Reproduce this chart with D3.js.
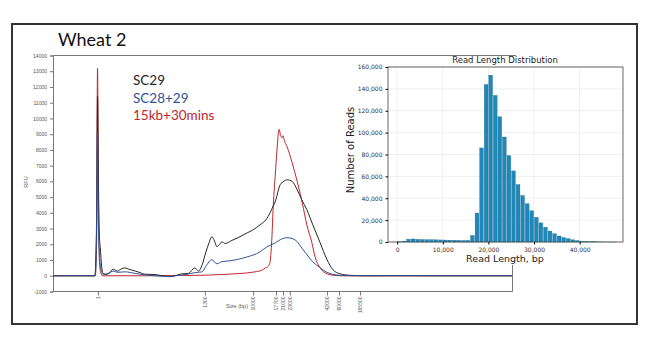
<!DOCTYPE html>
<html><head><meta charset="utf-8">
<script src="https://cdn.jsdelivr.net/npm/d3@7"></script>
<style>body{margin:0;background:#fff}svg{display:block}</style>
</head><body><svg id="c" width="650" height="337"></svg>
<script>
// ---------- data ----------
const chartTitle = "Wheat 2";
const seriesNames = ["SC29", "SC28+29", "15kb+30mins"];
const seriesColors = ["#262626", "#2f5597", "#c0262d"];
const rfuTicks = d3.range(-1000, 14001, 1000);
const ladderSizes = ["1", "1300", "10000", "17700", "21000", "23000", "42000", "60000", "165500"];
const ladderTimes = [9.8, 33.1, 43.6, 48.6, 50.1, 51.6, 59.7, 62.3, 66.9]; // migration time (s)
// [migration time, RFU]
const sc29 = [[0,0],[9.1,0],[9.5,3000],[9.7,11400],[9.9,6000],[10.1,2500],[10.3,1800],[10.6,600],[10.9,150],[11.5,80],[12.5,250],[13.1,420],[14,300],[15,450],[15.7,500],[16.5,420],[17.9,300],[19,200],[20,100],[22,80],[24.4,-20],[25.5,-60],[26.6,0],[28,120],[29.5,150],[30.9,500],[31.7,300],[32.5,700],[33.3,1500],[34,2100],[34.6,2480],[35.2,2200],[35.7,1850],[36.3,2000],[36.8,2160],[37.5,2050],[39,2250],[40.5,2450],[42.3,2730],[43.5,2900],[45.1,3240],[46.5,3600],[47.3,4000],[47.9,4400],[48.4,4700],[49.5,5790],[50.3,6000],[51,6100],[52.1,6000],[53.2,5470],[54.2,4830],[55.3,4200],[56.6,3240],[58.2,2100],[59.7,1020],[61,380],[62.5,130],[64.7,30],[68,0],[75,10],[85,0],[100,0]];
const sc2829 = [[0,0],[9.2,0],[9.5,2000],[9.65,9000],[9.85,4000],[10.1,1500],[10.4,500],[10.9,100],[12,120],[13.1,300],[14,220],[15.7,250],[17.9,150],[20,60],[24.4,-40],[25.5,-50],[26.6,0],[29,80],[30.9,200],[32.5,250],[33.3,600],[34.6,1020],[35.7,760],[36.8,900],[38.5,950],[42.3,1200],[45,1500],[46.6,1840],[48.5,2100],[49.5,2290],[51,2420],[52.7,2290],[54.5,1650],[56.6,890],[58.2,510],[59.9,190],[62.5,30],[65,0],[100,0]];
const kb15 = [[0,0],[9.2,0],[9.5,4000],[9.7,13200],[9.9,5000],[10.1,1000],[10.4,200],[10.9,0],[20,0],[28,20],[32,30],[36.8,80],[40,130],[42.3,180],[44,250],[45.5,350],[46.3,500],[46.9,600],[47.3,900],[47.7,2500],[47.95,4200],[48.4,6300],[48.8,8000],[49.24,9300],[49.6,8900],[49.9,8770],[50.1,8900],[50.4,8600],[51,8200],[52.1,7180],[53.2,6000],[54.3,4640],[55.3,3240],[56.4,2100],[57.1,1200],[58.2,500],[59.7,130],[61.4,20],[63,0],[100,0]];

const histTitle = "Read Length Distribution";
const histBinStarts = d3.range(0, 48000, 1000);
const histCounts = [200,800,2600,2800,2500,2300,2200,2100,2000,1900,1800,1700,1600,1500,1400,1500,6000,26500,86000,144000,152500,134000,114500,96000,79000,65000,52500,42500,35000,28500,22500,17500,13500,10000,7500,5500,4000,3000,2000,1300,800,500,300,200,100,50,30,10];
const histXTicks = [0, 10000, 20000, 30000, 40000];
const histYTicks = d3.range(0, 160001, 20000);

// ---------- drawing ----------
const svg = d3.select("#c");
svg.append("rect").attr("width",650).attr("height",337).attr("fill","#fff");

// outer frame
svg.append("rect").attr("x",12).attr("y",24).attr("width",625).attr("height",300)
  .attr("fill","none").attr("stroke","#333").attr("stroke-width",2);

svg.append("text").attr("x",58).attr("y",46).text(chartTitle)
  .attr("font-family","Lato, 'Open Sans', sans-serif").attr("font-size",18).attr("fill","#111");

// main electropherogram
const x = d3.scaleLinear().domain([0,100]).range([53,512]);
const y = d3.scaleLinear().domain([-1000,14000]).range([291.5,55.5]);

const g = svg.append("g");
// plot box
g.append("line").attr("x1",53).attr("x2",516).attr("y1",55.5).attr("y2",55.5).attr("stroke","#777");
g.append("line").attr("x1",512.5).attr("x2",512.5).attr("y1",55.5).attr("y2",291.5).attr("stroke","#777");

const yAxis = g.append("g").attr("transform","translate(53,0)")
  .call(d3.axisLeft(y).tickValues(rfuTicks).tickSize(3).tickFormat(d=>String(d)));
yAxis.selectAll("text").attr("font-size",5).attr("fill","#555").attr("font-family","'Liberation Sans', sans-serif");
yAxis.selectAll("line,path").attr("stroke","#777");

const xAxis = g.append("g").attr("transform","translate(0,291.5)")
  .call(d3.axisBottom(x).tickValues(ladderTimes).tickSize(4).tickFormat((d,i)=>ladderSizes[i]));
xAxis.select(".domain").attr("d","M53,0H512.5").attr("stroke","#777");
xAxis.selectAll("line").attr("stroke","#777");
xAxis.selectAll("text").attr("font-size",5).attr("fill","#555").attr("font-family","'Liberation Sans', sans-serif")
  .attr("transform","rotate(-90)").attr("text-anchor","end").attr("x",-5).attr("y",0).attr("dy","0.35em");

g.append("text").attr("transform","translate(28,182) rotate(-90)").attr("text-anchor","middle")
  .attr("font-size",5.5).attr("fill","#555").attr("font-family","'Liberation Sans', sans-serif").text("RFU");
g.append("text").attr("x",237).attr("y",308).attr("text-anchor","middle")
  .attr("font-size",5.5).attr("fill","#555").attr("font-family","'Liberation Sans', sans-serif").text("Size (bp)");

const line = d3.line().x(d=>x(d[0])).y(d=>y(d[1])).curve(d3.curveMonotoneX);
const traces = [kb15, sc29, sc2829];
const traceColor = [seriesColors[2], seriesColors[0], seriesColors[1]];
traces.forEach((t,i)=>{
  g.append("path").datum(t).attr("d",line).attr("fill","none")
   .attr("stroke",traceColor[i]).attr("stroke-width",1);
});

// legend
seriesNames.forEach((n,i)=>{
  svg.append("text").attr("x",133).attr("y",85+i*17.5).text(n)
   .attr("font-family","Lato, 'Open Sans', sans-serif").attr("font-size",13.5).attr("fill",seriesColors[i]);
});

// inset histogram
const ig = svg.append("g");
ig.append("rect").attr("x",338).attr("y",57).attr("width",292).attr("height",208).attr("fill","#fff");
const hx = d3.scaleLinear().domain([-2000,49500]).range([388,623]);
const hy = d3.scaleLinear().domain([0,160000]).range([242,67]);
const hf = "'DejaVu Sans', sans-serif";

ig.selectAll(".vg").data(histXTicks).join("line").attr("x1",d=>hx(d)).attr("x2",d=>hx(d))
  .attr("y1",67).attr("y2",242).attr("stroke","#ebebeb").attr("stroke-width",0.8);
ig.selectAll(".hg").data(histYTicks).join("line").attr("y1",d=>hy(d)).attr("y2",d=>hy(d))
  .attr("x1",388).attr("x2",623).attr("stroke","#ebebeb").attr("stroke-width",0.8);

ig.selectAll(".bar").data(histBinStarts).join("rect")
  .attr("x",d=>hx(d)+0.4).attr("width",d=>hx(d+1000)-hx(d)-0.8)
  .attr("y",(d,i)=>hy(histCounts[i])).attr("height",(d,i)=>hy(0)-hy(histCounts[i]))
  .attr("fill","#1f88b8").attr("stroke","#17668c").attr("stroke-width",0.3);

ig.append("rect").attr("x",388).attr("y",67).attr("width",235).attr("height",175)
  .attr("fill","none").attr("stroke","#444").attr("stroke-width",0.8);

const hxAxis = ig.append("g").attr("transform","translate(0,242)")
  .call(d3.axisBottom(hx).tickValues(histXTicks).tickSize(2.5).tickFormat(d3.format(",")));
hxAxis.select(".domain").remove();
hxAxis.selectAll("text").attr("font-size",6).attr("fill","#333").attr("font-family",hf);
const hyAxis = ig.append("g").attr("transform","translate(388,0)")
  .call(d3.axisLeft(hy).tickValues(histYTicks).tickSize(2.5).tickFormat(d3.format(",")));
hyAxis.select(".domain").remove();
hyAxis.selectAll("text").attr("font-size",6).attr("fill","#333").attr("font-family",hf);

ig.append("text").attr("x",505).attr("y",63).attr("text-anchor","middle").attr("font-size",8.5)
  .attr("font-family",hf).attr("fill","#222").text(histTitle);
ig.append("text").attr("x",505).attr("y",262).attr("text-anchor","middle").attr("font-size",9.5)
  .attr("font-family",hf).attr("fill","#222").text("Read Length, bp");
ig.append("text").attr("transform","translate(354,150) rotate(-90)").attr("text-anchor","middle").attr("font-size",10)
  .attr("font-family",hf).attr("fill","#222").text("Number of Reads");
</script></body></html>
